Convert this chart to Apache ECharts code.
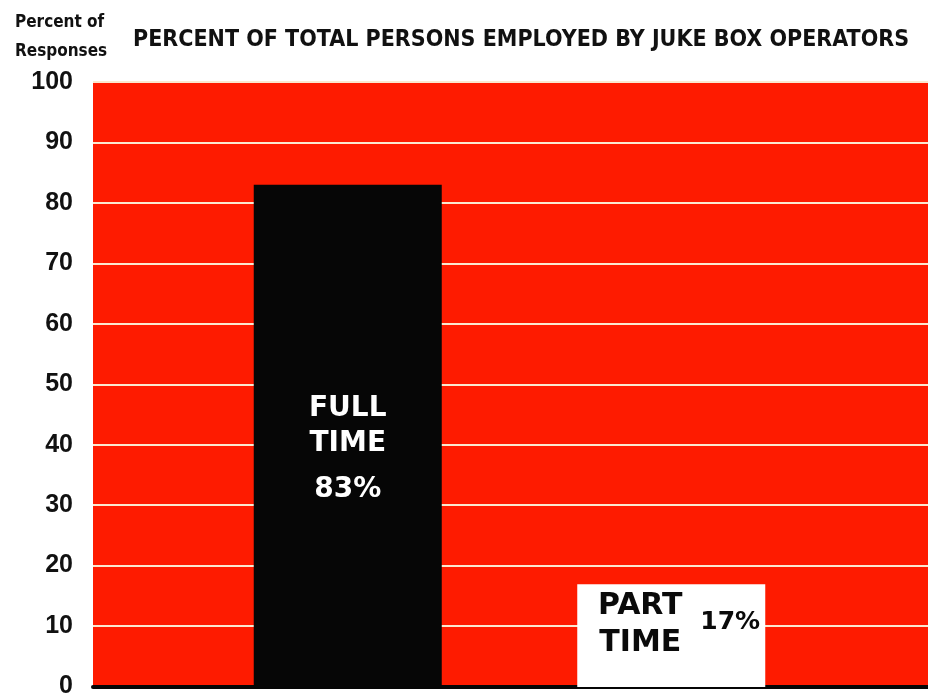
<!DOCTYPE html>
<html>
<head>
<meta charset="utf-8">
<script src="https://cdn.jsdelivr.net/npm/echarts@6/dist/echarts.min.js"></script>
<style>
html,body{margin:0;padding:0;background:#fff;}
#chart{width:928px;height:699px;}
</style>
</head>
<body>
<div id="chart"></div>
<script>
const titleText = 'PERCENT OF TOTAL PERSONS EMPLOYED BY JUKE BOX OPERATORS';
const axisTitle = 'Percent of\nResponses';
const categories = ['FULL TIME', 'PART TIME'];
const values = [83, 17];
const barColors = ['#060606', '#ffffff'];
const labelColors = ['#ffffff', '#0a0a0a'];
const yMin = 0, yMax = 100, yStep = 10;

const condensed = '"DejaVu Sans Condensed", "Liberation Sans Narrow", sans-serif';
const heavy = '"DejaVu Sans", sans-serif';

const nameLabel = [
  {offset: [0, -10], fontSize: 28, lineHeight: 35},
  {offset: [-31, -11], fontSize: 30, lineHeight: 37}
];
const pctLabel = [
  {offset: [0, 54], fontSize: 28},
  {offset: [59, -13], fontSize: 25}
];

const chart = echarts.init(document.getElementById('chart'));
chart.setOption({
  animation: false,
  backgroundColor: '#ffffff',
  title: [
    {text: titleText, left: 128, top: 24,
     textStyle: {fontFamily: condensed, fontWeight: 'bold', fontSize: 23, color: '#111'}},
    {text: axisTitle, left: 10, top: 3,
     textStyle: {fontFamily: condensed, fontWeight: 'bold', fontSize: 17, lineHeight: 29, color: '#111'}}
  ],
  grid: [
    {left: 93, right: 0, top: 82, bottom: 12, show: true, backgroundColor: '#fe1b00', borderWidth: 0},
    {left: 186, right: 95, top: 82, bottom: 12}
  ],
  xAxis: [
    {type: 'category', gridIndex: 0, data: categories,
     axisLine: {show: true, lineStyle: {color: '#050505', width: 4}},
     axisTick: {show: false}, axisLabel: {show: false}},
    {type: 'category', gridIndex: 1, data: categories, show: false}
  ],
  yAxis: [
    {type: 'value', gridIndex: 0, min: yMin, max: yMax, interval: yStep,
     axisLine: {show: false}, axisTick: {show: false},
     splitLine: {show: true, lineStyle: {color: '#fbe8cf', width: 2}},
     axisLabel: {margin: 20, fontFamily: '"Liberation Sans", Arial, sans-serif', fontWeight: 'bold', fontSize: 25, color: '#111'}},
    {type: 'value', gridIndex: 1, min: yMin, max: yMax, interval: yStep, show: false}
  ],
  series: [
    {type: 'bar', xAxisIndex: 1, yAxisIndex: 1, barWidth: 188, barGap: '-100%',
     data: values.map((v, i) => ({
       value: v,
       itemStyle: {color: barColors[i]},
       label: {show: true, position: 'inside', offset: nameLabel[i].offset,
               formatter: p => p.name.split(' ').join('\n'),
               fontFamily: heavy, fontWeight: 'bold', fontSize: nameLabel[i].fontSize,
               lineHeight: nameLabel[i].lineHeight, color: labelColors[i], align: 'center'}
     }))},
    {type: 'bar', xAxisIndex: 1, yAxisIndex: 1, barWidth: 188, barGap: '-100%',
     data: values.map((v, i) => ({
       value: v,
       itemStyle: {color: 'rgba(0,0,0,0)'},
       label: {show: true, position: 'inside', offset: pctLabel[i].offset,
               formatter: p => p.value + '%',
               fontFamily: heavy, fontWeight: 'bold', fontSize: pctLabel[i].fontSize,
               color: labelColors[i]}
     }))}
  ]
});
</script>
</body>
</html>
